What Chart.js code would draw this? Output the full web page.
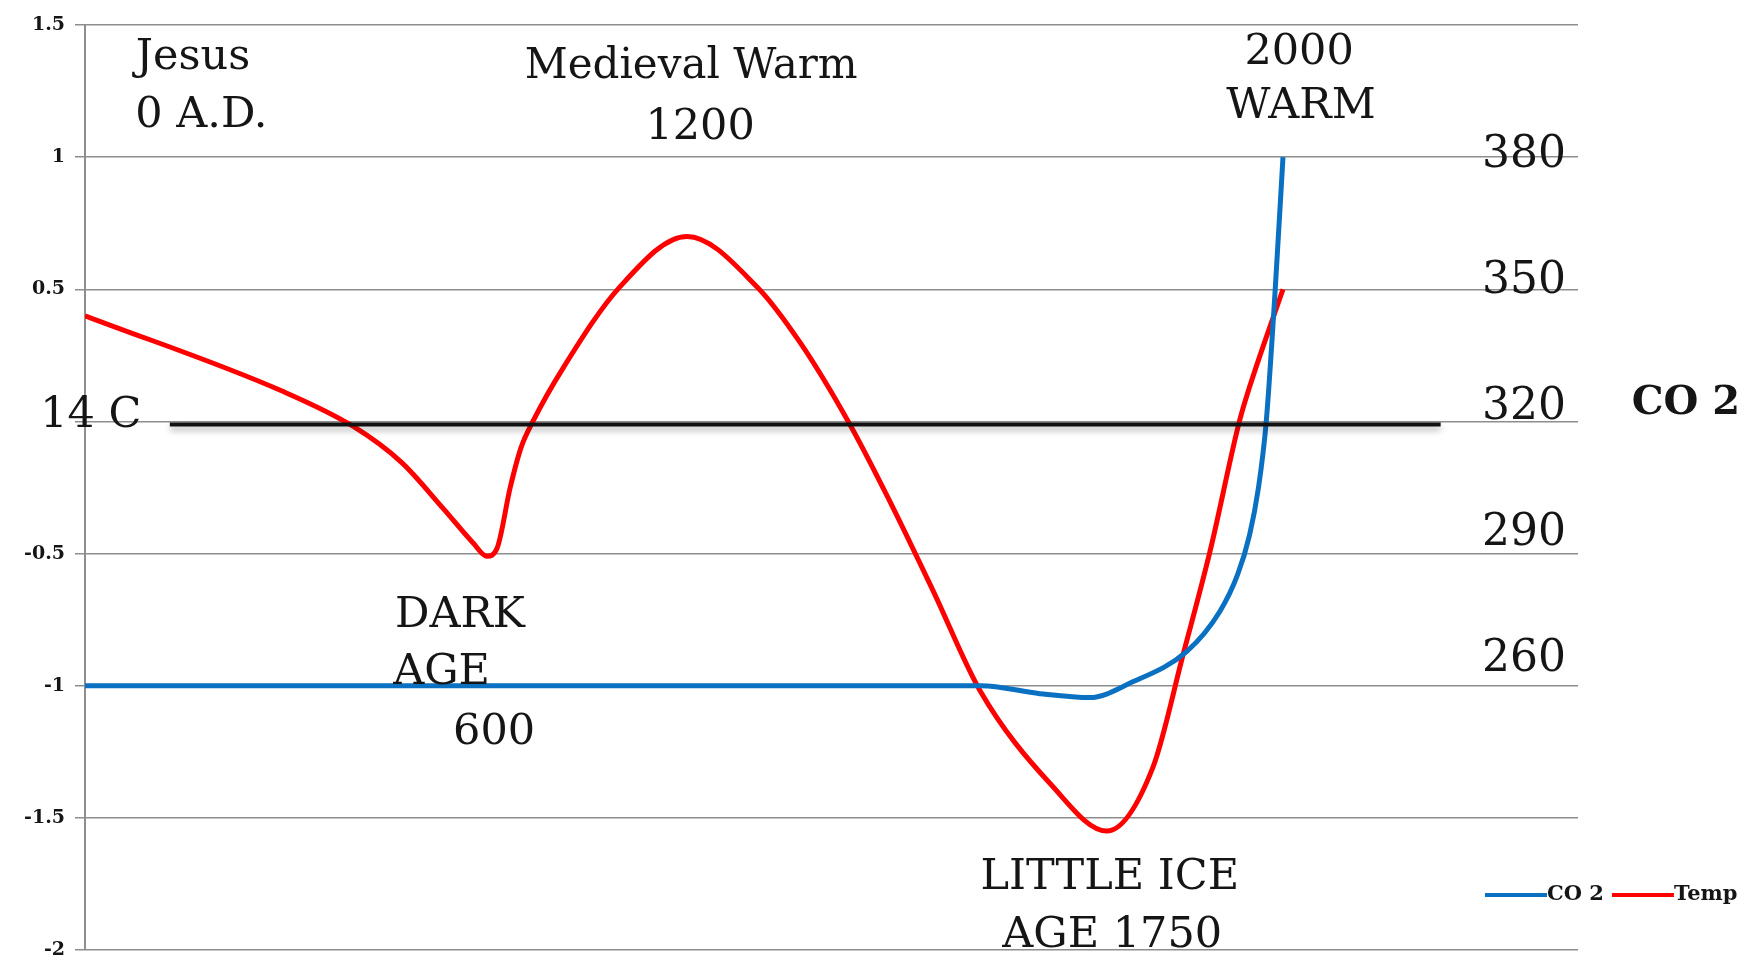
<!DOCTYPE html>
<html>
<head>
<meta charset="utf-8">
<title>Temperature and CO 2, 0 A.D. to 2000</title>
<script src="https://cdn.jsdelivr.net/npm/chart.js@4.4.1/dist/chart.umd.min.js"></script>
<style>
  html, body { margin: 0; padding: 0; background: #fff; }
  #wrap { position: relative; width: 1744px; height: 960px; }
</style>
</head>
<body>
<div id="wrap"><canvas id="chart" width="1744" height="960"></canvas></div>
<script>
(function () {
  "use strict";

  const RED = "#ff0000";
  const BLUE = "#0a70c2";
  const GRID = "#8e8e8e";
  const INK = "#151515";
  const SERIF = "'DejaVu Serif', 'Liberation Serif', serif";

  // hidden horizontal axis, in years
  const X_RANGE = [0, 2500];

  const SERIES_NAMES = ["CO 2", "Temp"];

  const TEMP_YEARS = [0, 330, 450, 530, 600, 650, 673, 690, 712, 730, 750, 800, 896, 1008,
    1125, 1197, 1278, 1345, 1420, 1499, 1616, 1711, 1788, 1839, 1884, 1933, 1950, 2006];
  const TEMP_VALUES = [0.40, 0.115, -0.02, -0.155, -0.33, -0.46, -0.51, -0.48, -0.25, -0.10, 0.0,
    0.20, 0.51, 0.70, 0.51, 0.30, 0.0, -0.29, -0.64, -1.02, -1.37, -1.55, -1.31, -0.88,
    -0.49, 0.0, 0.13, 0.50];

  // CO 2 is plotted on the temperature axis, as in the original
  const CO2_YEARS = [0, 1364, 1500, 1599, 1683, 1750, 1845, 1900, 1930, 1950, 1965, 1978, 1993, 2006];
  const CO2_VALUES = [-1, -1, -1.0, -1.03, -1.045, -0.99, -0.87, -0.72, -0.58, -0.43, -0.25, 0.0, 0.5, 1.0];

  const TEMP_TICKS = [-2, -1.5, -1, -0.5, 0, 0.5, 1, 1.5];
  const TEMP_RANGE = [-2, 1.5];
  const CO2_TICKS = [260, 290, 320, 350, 380];
  const CO2_RANGE = [191, 411];

  // hand-placed labels of the original, anchored in axis units
  const NOTES = [
    { text: "Jesus", x: 85, y: 1.375, align: "left" },
    { text: "0 A.D.", x: 84, y: 1.155, align: "left" },
    { text: "Medieval Warm", x: 1015, y: 1.34, size: 42 },
    { text: "1200", x: 1030, y: 1.11 },
    { text: "2000", x: 2033, y: 1.393 },
    { text: "WARM", x: 2036, y: 1.19 },
    { text: "DARK", x: 519, y: -0.735, align: "left" },
    { text: "AGE", x: 516, y: -0.95, align: "left" },
    { text: "600", x: 685, y: -1.18 },
    { text: "LITTLE ICE", x: 1716, y: -1.727 },
    { text: "AGE 1750", x: 1720, y: -1.945 },
    { text: "14 C", x: -75, y: 0.022, align: "left" },
    { text: "CO 2", x: 2590, y: 0.068, align: "left", bold: true, size: 40 }
  ];

  // the black 14 C reference line
  const BASELINE = { value: 0, from: 142, to: 2270 };

  function pairs(xs, ys) {
    return xs.map((x, i) => ({ x: x, y: ys[i] }));
  }

  const overlay = {
    id: "overlay",
    afterDatasetsDraw(chart) {
      const { ctx, scales: { x, y } } = chart;
      const py = y.getPixelForValue(BASELINE.value) + 3;
      ctx.save();
      ctx.strokeStyle = "#111";
      ctx.lineWidth = 4;
      ctx.shadowColor = "rgba(0,0,0,0.3)";
      ctx.shadowBlur = 6;
      ctx.shadowOffsetY = 4;
      ctx.beginPath();
      ctx.moveTo(x.getPixelForValue(BASELINE.from), py);
      ctx.lineTo(x.getPixelForValue(BASELINE.to), py);
      ctx.stroke();
      ctx.restore();
    },
    afterDraw(chart) {
      const { ctx, chartArea, scales: { x, y, y2 } } = chart;
      ctx.save();
      ctx.fillStyle = INK;
      ctx.textBaseline = "middle";

      NOTES.forEach((n) => {
        ctx.font = (n.bold ? "bold " : "") + (n.size || 43) + "px " + SERIF;
        ctx.textAlign = n.align || "center";
        ctx.fillText(n.text, x.getPixelForValue(n.x), y.getPixelForValue(n.y));
      });

      // CO 2 scale labels sit inside the plot, against its right edge
      ctx.font = "44px " + SERIF;
      ctx.textAlign = "right";
      y2.ticks.forEach((t) => {
        ctx.fillText(String(t.value), chartArea.right - 12, y2.getPixelForValue(t.value));
      });

      // legend, bottom right
      ctx.font = "bold 21px " + SERIF;
      ctx.textAlign = "left";
      let lx = chartArea.right - 93;
      const ly = chartArea.bottom - 55;
      chart.data.datasets.forEach((ds) => {
        ctx.strokeStyle = ds.borderColor;
        ctx.lineWidth = 4;
        ctx.beginPath();
        ctx.moveTo(lx, ly);
        ctx.lineTo(lx + 62, ly);
        ctx.stroke();
        lx += 62;
        ctx.fillText(ds.label, lx, ly);
        lx += ctx.measureText(ds.label).width + 8;
      });
      ctx.restore();
    }
  };

  new Chart(document.getElementById("chart"), {
    type: "line",
    data: {
      datasets: [
        {
          label: SERIES_NAMES[0],
          data: pairs(CO2_YEARS, CO2_VALUES),
          borderColor: BLUE,
          borderWidth: 5,
          pointRadius: 0,
          cubicInterpolationMode: "monotone",
          fill: false
        },
        {
          label: SERIES_NAMES[1],
          data: pairs(TEMP_YEARS, TEMP_VALUES),
          borderColor: RED,
          borderWidth: 5,
          pointRadius: 0,
          cubicInterpolationMode: "monotone",
          fill: false
        }
      ]
    },
    options: {
      responsive: false,
      animation: false,
      layout: { padding: { top: 25, bottom: 10, left: 0, right: 0 } },
      plugins: {
        legend: { display: false },
        tooltip: { enabled: false }
      },
      scales: {
        x: { type: "linear", min: X_RANGE[0], max: X_RANGE[1], display: false },
        y: {
          position: "left",
          min: TEMP_RANGE[0],
          max: TEMP_RANGE[1],
          afterBuildTicks: (s) => { s.ticks = TEMP_TICKS.map((v) => ({ value: v })); },
          afterFit: (s) => {
            s.width = 85;
            s.paddingTop = 0;
            s.paddingBottom = 0;
          },
          grid: { color: GRID, lineWidth: 1.5, tickLength: 10 },
          border: { color: GRID, width: 2 },
          ticks: {
            padding: 10,
            color: INK,
            font: { family: SERIF, size: 19, weight: "bold" },
            callback: (v) => (v === 0 ? "" : String(v))
          }
        },
        y2: {
          position: "right",
          min: CO2_RANGE[0],
          max: CO2_RANGE[1],
          afterBuildTicks: (s) => { s.ticks = CO2_TICKS.map((v) => ({ value: v })); },
          afterFit: (s) => { s.width = 166; },
          grid: { display: false },
          border: { display: false },
          ticks: { display: false }
        }
      }
    },
    plugins: [overlay]
  });
})();
</script>
</body>
</html>
